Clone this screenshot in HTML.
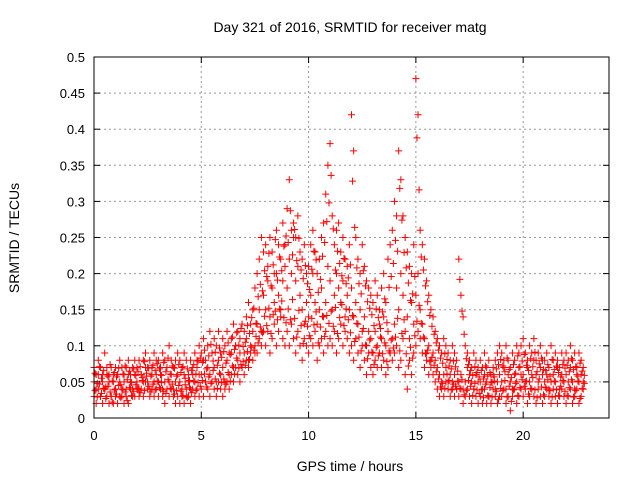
<!DOCTYPE html>
<html><head><meta charset="utf-8"><style>
body{margin:0;background:#fff}
svg{display:block;font-family:"Liberation Sans",sans-serif}
</style></head><body>
<svg id="chart" width="640" height="480" viewBox="0 0 640 480">
<text x="350" y="32" font-size="14" text-anchor="middle">Day 321 of 2016, SRMTID for receiver matg</text>
<text transform="translate(19,238) rotate(-90)" font-size="14" text-anchor="middle">SRMTID / TECUs</text>
<text x="350" y="471" font-size="14" text-anchor="middle">GPS time / hours</text>
<g id="grid"></g>
<g id="marks"></g>
<rect x="94" y="57" width="515" height="361" fill="none" stroke="#000" stroke-width="1"/>
<g id="ticks"></g>
</svg>
<script>
const xTicks=[0,5,10,15,20];
const yTicks=[0,0.05,0.1,0.15,0.2,0.25,0.3,0.35,0.4,0.45,0.5];
const yTickLabels=["0","0.05","0.1","0.15","0.2","0.25","0.3","0.35","0.4","0.45","0.5"];
const timeStart=0, timeStep=0.1, halfOffset=0.05;
const seriesMid=[.05,.04,.06,.03,.05,.04,.06,.05,.03,.05,.04,.06,.05,.03,.05,.04,.06,.05,.04,.06,.05,.04,.06,.05,.07,.05,.04,.06,.05,.06,.05,.06,.04,.05,.07,.05,.06,.04,.05,.06,.05,.04,.06,.03,.05,.04,.06,.05,.07,.06,.06,.08,.05,.07,.06,.09,.07,.05,.08,.06,.07,.05,.08,.06,.09,.07,.10,.08,.09,.07,.09,.11,.08,.10,.12,.09,.13,.15,.12,.17,.15,.19,.14,.18,.16,.20,.17,.15,.19,.21,.18,.22,.20,.25,.19,.21,.17,.15,.13,.16,.14,.17,.20,.16,.13,.15,.18,.14,.16,.21,.19,.15,.17,.20,.18,.16,.19,.14,.17,.15,.18,.14,.16,.13,.15,.12,.14,.10,.12,.11,.09,.12,.10,.13,.11,.14,.10,.12,.09,.11,.13,.18,.15,.20,.17,.12,.14,.11,.16,.13,.17,.20,.15,.13,.11,.09,.10,.08,.09,.08,.07,.06,.05,.06,.07,.05,.06,.05,.06,.04,.05,.06,.04,.05,.07,.06,.05,.04,.06,.05,.05,.04,.06,.05,.03,.05,.06,.04,.05,.06,.05,.07,.04,.06,.05,.04,.06,.05,.07,.06,.06,.05,.07,.05,.06,.08,.06,.05,.07,.06,.05,.06,.04,.05,.06,.05,.07,.04,.06,.05,.06,.05,.07,.05,.04,.06,.05,.06,.05];
const seriesHigh=[.07,.06,.08,.07,.06,.09,.07,.06,.07,.06,.07,.06,.08,.07,.06,.07,.08,.06,.07,.08,.07,.08,.06,.08,.09,.07,.08,.07,.09,.08,.08,.07,.09,.08,.07,.10,.08,.07,.08,.09,.08,.07,.09,.08,.06,.08,.07,.09,.08,.10,.09,.11,.08,.10,.12,.09,.11,.10,.12,.09,.11,.10,.12,.09,.11,.13,.10,.12,.11,.13,.12,.14,.16,.13,.15,.18,.20,.22,.25,.23,.24,.21,.25,.23,.20,.26,.24,.22,.27,.24,.29,.33,.26,.27,.25,.28,.23,.22,.24,.20,.21,.24,.26,.23,.20,.22,.25,.27,.31,.35,.38,.28,.24,.26,.27,.23,.25,.22,.21,.24,.42,.37,.25,.22,.20,.24,.21,.19,.18,.17,.16,.19,.17,.15,.18,.20,.16,.22,.24,.26,.30,.28,.37,.33,.28,.25,.23,.21,.20,.24,.47,.42,.26,.24,.22,.19,.17,.15,.14,.12,.11,.10,.09,.11,.10,.09,.08,.10,.09,.08,.22,.17,.14,.10,.09,.08,.07,.09,.08,.07,.08,.07,.09,.07,.08,.06,.07,.08,.09,.10,.09,.08,.10,.08,.07,.09,.08,.10,.09,.10,.11,.09,.08,.10,.09,.11,.08,.09,.10,.08,.08,.09,.07,.10,.08,.09,.08,.07,.09,.08,.09,.08,.10,.08,.09,.07,.09,.08,.07];
const seriesLow=[.03,.02,.04,.03,.02,.04,.03,.02,.03,.02,.03,.02,.03,.04,.02,.03,.02,.04,.03,.03,.04,.03,.04,.03,.05,.04,.03,.04,.03,.04,.03,.04,.03,.02,.04,.03,.04,.03,.02,.03,.02,.03,.02,.04,.03,.02,.04,.03,.04,.03,.04,.03,.05,.04,.03,.05,.04,.03,.05,.04,.03,.04,.05,.04,.06,.05,.07,.06,.05,.07,.06,.08,.07,.09,.08,.10,.09,.11,.10,.12,.10,.12,.09,.11,.13,.10,.12,.14,.11,.10,.12,.10,.13,.11,.09,.12,.10,.08,.11,.10,.09,.11,.10,.12,.08,.10,.11,.09,.12,.10,.11,.10,.12,.09,.11,.13,.10,.12,.11,.09,.10,.08,.11,.09,.07,.10,.08,.06,.09,.07,.06,.08,.07,.09,.07,.08,.06,.07,.09,.08,.09,.10,.07,.08,.11,.06,.04,.08,.06,.09,.10,.12,.11,.09,.07,.08,.06,.07,.06,.05,.04,.03,.04,.03,.05,.04,.03,.04,.03,.04,.03,.04,.02,.03,.04,.03,.02,.04,.03,.02,.03,.02,.04,.02,.03,.02,.04,.03,.02,.03,.03,.04,.02,.03,.01,.03,.04,.02,.03,.04,.03,.04,.02,.03,.04,.03,.02,.04,.03,.02,.03,.04,.03,.02,.04,.03,.02,.03,.04,.03,.02,.03,.04,.02,.03,.04,.02,.03,.04];
const seriesUpperMid=[.062,.048,.071,.055,.066,.043,.058,.074,.051,.063,.057,.069,.046,.061,.072,.053,.065,.049,.068,.059,.064,.071,.056,.078,.062,.069,.058,.073,.066,.075,.068,.059,.077,.064,.083,.061,.072,.069,.058,.074,.063,.071,.055,.068,.052,.066,.074,.061,.079,.083,.077,.094,.068,.086,.102,.079,.091,.073,.097,.084,.092,.076,.104,.088,.112,.095,.118,.101,.124,.099,.105,.128,.117,.139,.152,.131,.168,.185,.176,.204,.196,.228,.183,.212,.247,.191,.223,.204,.238,.252,.243,.287,.226,.261,.218,.249,.205,.193,.211,.186,.178,.206,.231,.219,.174,.192,.224,.243,.272,.298,.336,.262,.205,.231,.214,.197,.221,.186,.194,.212,.328,.264,.208,.186,.172,.204,.183,.161,.152,.143,.128,.151,.139,.124,.147,.165,.132,.181,.196,.214,.246,.231,.318,.274,.229,.208,.187,.163,.172,.196,.388,.316,.223,.205,.183,.161,.142,.127,.116,.104,.094,.083,.076,.089,.081,.072,.068,.079,.071,.065,.192,.148,.116,.082,.074,.066,.059,.071,.063,.057,.066,.054,.072,.058,.063,.049,.057,.068,.074,.081,.072,.064,.083,.067,.056,.074,.062,.086,.071,.079,.088,.073,.066,.082,.071,.091,.064,.075,.083,.067,.066,.074,.058,.081,.067,.072,.063,.057,.074,.069,.073,.064,.082,.067,.071,.058,.076,.065,.059];
const seriesLowerMid=[.038,.029,.047,.034,.041,.027,.044,.036,.022,.039,.033,.045,.028,.039,.036,.024,.042,.031,.037,.046,.041,.035,.052,.038,.058,.044,.036,.047,.039,.051,.042,.049,.037,.034,.053,.041,.047,.033,.038,.045,.037,.031,.046,.028,.042,.035,.051,.038,.049,.044,.052,.061,.043,.057,.048,.066,.054,.041,.062,.049,.054,.047,.063,.051,.072,.061,.083,.069,.074,.078,.073,.092,.081,.098,.094,.113,.104,.126,.118,.141,.128,.152,.117,.143,.148,.136,.151,.162,.139,.132,.151,.136,.164,.138,.112,.149,.128,.103,.134,.127,.114,.138,.129,.147,.104,.126,.141,.113,.142,.131,.148,.127,.153,.117,.139,.157,.128,.151,.136,.118,.142,.106,.131,.112,.093,.124,.101,.082,.108,.091,.074,.098,.086,.112,.089,.104,.078,.093,.108,.097,.112,.138,.093,.117,.136,.089,.072,.098,.083,.114,.134,.156,.131,.112,.089,.094,.078,.084,.073,.064,.054,.043,.048,.041,.061,.052,.039,.047,.044,.051,.041,.053,.032,.038,.052,.044,.031,.048,.039,.034,.039,.028,.047,.031,.042,.029,.051,.037,.026,.041,.038,.052,.029,.044,.023,.039,.048,.031,.042,.053,.044,.051,.033,.041,.056,.039,.028,.054,.043,.032,.042,.053,.038,.029,.051,.039,.031,.044,.052,.037,.031,.042,.053,.029,.038,.051,.027,.041,.048];
const X0=94,X1=609,Y0=418,Y1=57,XMAX=24,YMAX=0.5;
function xs(v){return X0+(v/XMAX)*(X1-X0);}
function ys(v){return Y0-(v/YMAX)*(Y0-Y1);}
const NS="http://www.w3.org/2000/svg";
const grid=document.getElementById('grid'),ticks=document.getElementById('ticks'),marks=document.getElementById('marks');
function mk(tag,attrs,parent){const e=document.createElementNS(NS,tag);for(const k in attrs)e.setAttribute(k,attrs[k]);parent.appendChild(e);return e;}
xTicks.forEach(t=>{const x=xs(t);
 if(t>0){const g=mk('line',{x1:x,y1:Y0,x2:x,y2:Y1,stroke:'#999','stroke-dasharray':'2,3'},grid);
 
 }
 mk('line',{x1:x,y1:Y0,x2:x,y2:Y0-6,stroke:'#000'},ticks);
 mk('line',{x1:x,y1:Y1,x2:x,y2:Y1+6,stroke:'#000'},ticks);
 const l=mk('text',{x:x,y:Y0+22,'font-size':13,'text-anchor':'middle'},ticks);l.textContent=t;
 
 
});
yTicks.forEach((t,i)=>{const y=ys(t);
 if(t>0&&t<YMAX){const g=mk('line',{x1:X0,y1:y,x2:X1,y2:y,stroke:'#999','stroke-dasharray':'2,3'},grid);
 
 }
 mk('line',{x1:X0,y1:y,x2:X0+6,y2:y,stroke:'#000'},ticks);
 mk('line',{x1:X1,y1:y,x2:X1-6,y2:y,stroke:'#000'},ticks);
 const l=mk('text',{x:X0-9,y:y+5,'font-size':13,'text-anchor':'end'},ticks);l.textContent=yTickLabels[i];
 
 
});
function drawSeries(arr,offset,color,name){
 let d='';
 arr.forEach((v,i)=>{const x=xs(timeStart+offset+i*timeStep),y=ys(v);
  d+=`M${x-3.5},${y}h7M${x},${y-3.5}v7`;});
 const p=mk('path',{d:d,stroke:color,'stroke-width':1,fill:'none'},marks);
 
 
}
drawSeries(seriesLow,0,'#ff0000','series-low-points');
drawSeries(seriesLowerMid,halfOffset,'#ff0000','series-lower-mid-points');
drawSeries(seriesMid,0,'#ff0000','series-mid-points');
drawSeries(seriesUpperMid,halfOffset,'#ff0000','series-upper-mid-points');
drawSeries(seriesHigh,0,'#ff0000','series-high-points');
</script>
</body></html>
